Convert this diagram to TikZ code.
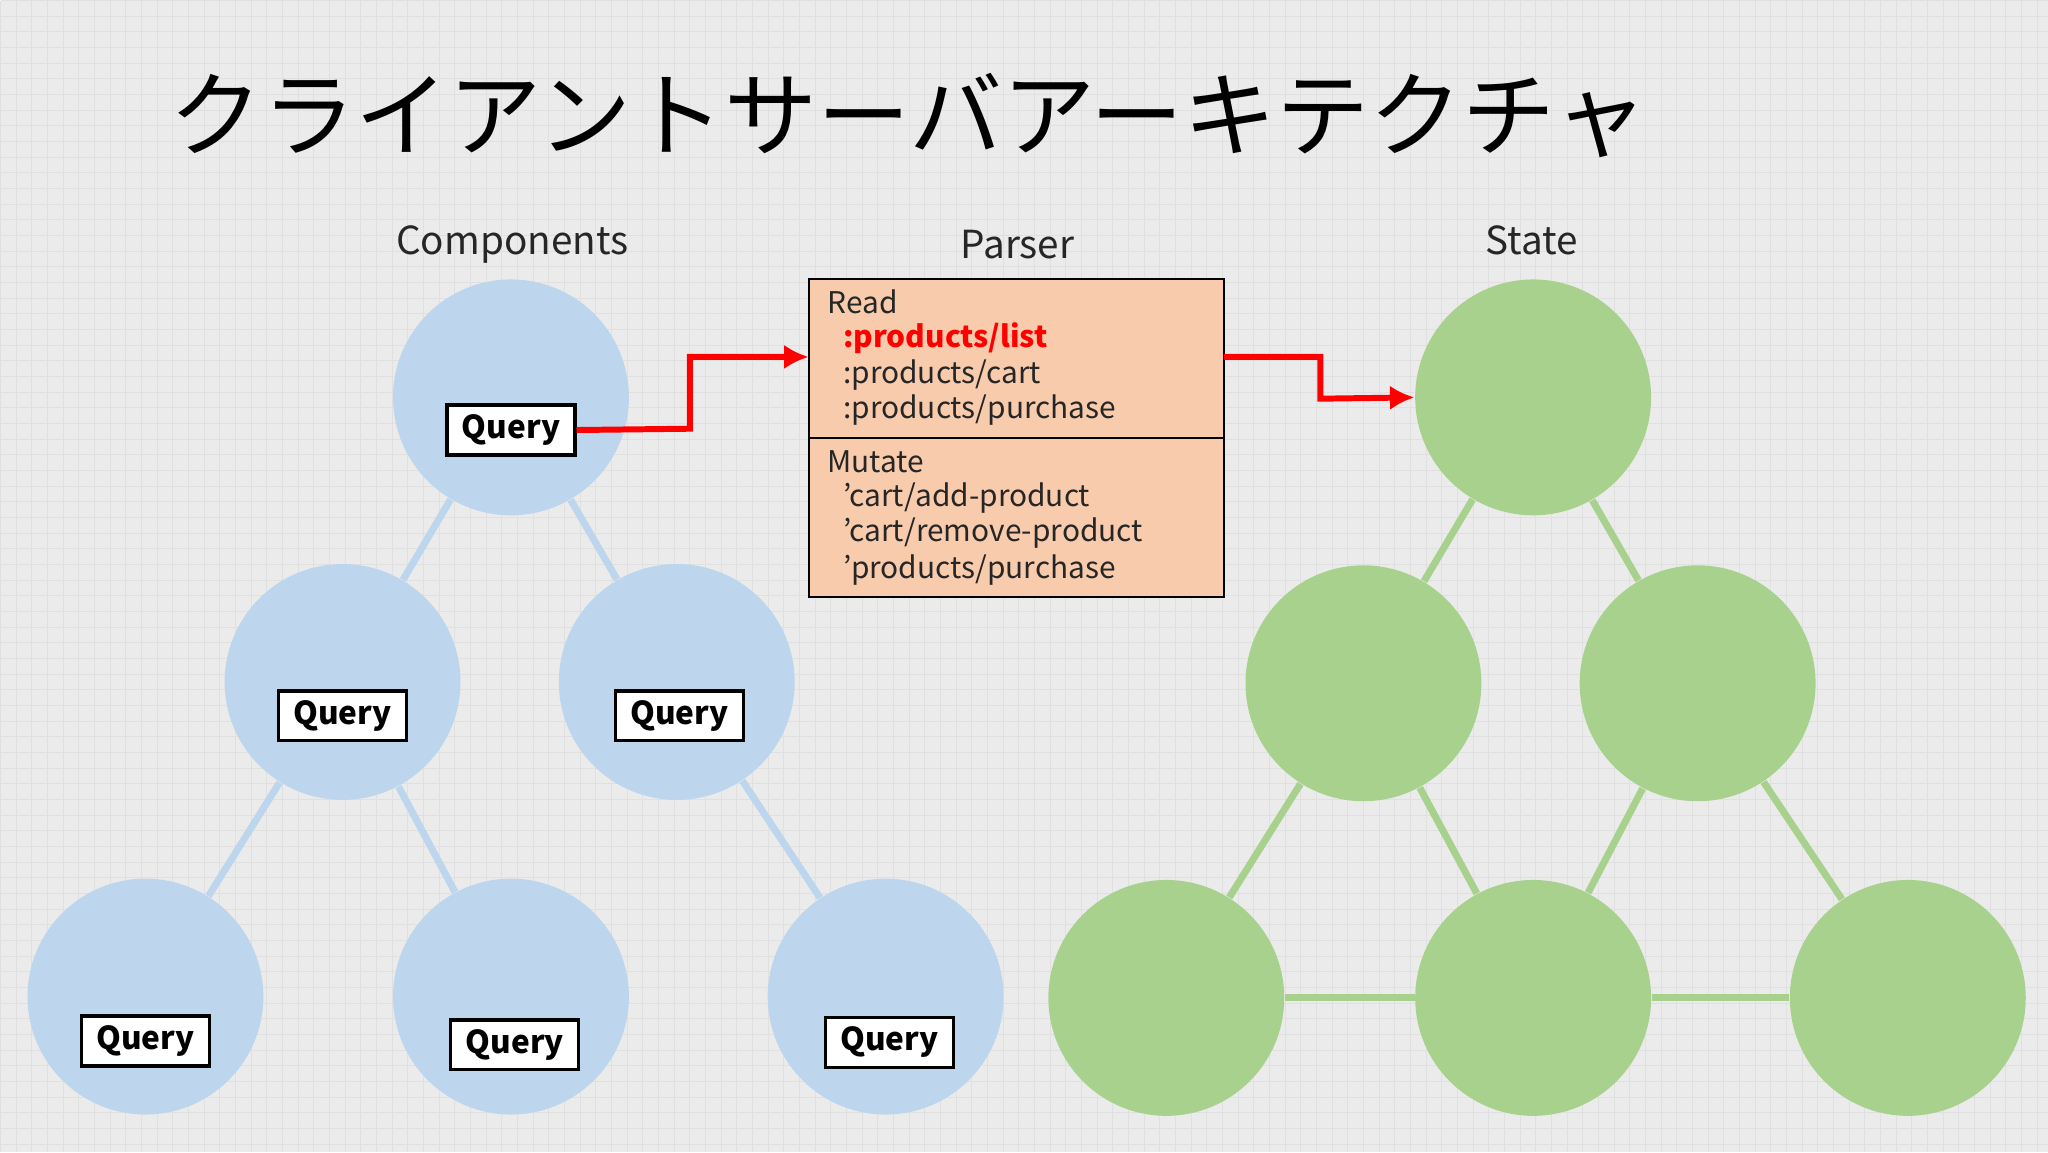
\documentclass[tikz,border=0pt]{standalone}
\usepackage{fontspec}
\setmainfont{Noto Sans CJK JP}[Ligatures=ResetAll]
\newfontfamily\cjk{Noto Sans CJK JP}
\usetikzlibrary{arrows.meta}
\definecolor{bg}{HTML}{EBEBEB}
\definecolor{gridc}{HTML}{E0E0E0}
\definecolor{blu}{HTML}{BDD6EE}
\definecolor{grn}{HTML}{A9D18E}
\definecolor{peach}{HTML}{F8CBAD}
\definecolor{redc}{HTML}{FF0000}
\newcommand{\sq}{\symbol{39}}
\begin{document}
\begin{tikzpicture}[x=0.01306cm,y=-0.01306cm,
  bnode/.style={circle,fill=blu,minimum size=2.36cm,inner sep=0},
  gnode/.style={circle,fill=grn,minimum size=2.36cm,inner sep=0},
  bedge/.style={blu,line width=2pt},
  gedge/.style={grn,line width=2pt},
  query/.style={draw=black,fill=white,line width=0.9pt,minimum width=1.28cm,minimum height=0.5cm,inner sep=0,font=\fontsize{9}{11}\selectfont\bfseries},
  lab/.style={font=\fontsize{11}{13}\selectfont,text=black!85},
  redarrow/.style={redc,line width=1.7pt,-{Latex[length=7pt,width=7pt]}}]
\fill[bg] (0,0) rectangle (1568,882);
\foreach \i in {0,12,...,1568} \draw[gridc,line width=0.3pt] (\i,0) -- (\i,882);
\foreach \j in {0,12,...,882} \draw[gridc,line width=0.3pt] (0,\j) -- (1568,\j);
\useasboundingbox (0,0) rectangle (1568,882);

\node[font=\cjk\fontsize{26.5}{30}\selectfont,anchor=west] (title) at (120,88) {クライアントサーバアーキテクチャ};

\node[lab] (lc) at (392,187) {Components};
\node[lab] (lp) at (779,187) {Parser};
\node[lab] (ls) at (1173,184) {State};

\node[bnode] (b1) at (391,304) {};
\node[bnode] (b2) at (262,522) {};
\node[bnode] (b3) at (518,522) {};
\node[bnode] (b4) at (111,763) {};
\node[bnode] (b5) at (391,763) {};
\node[bnode] (b6) at (678,763) {};
\node[gnode] (g1) at (1174,304) {};
\node[gnode] (g2) at (1044,523) {};
\node[gnode] (g3) at (1300,523) {};
\node[gnode] (g4) at (893,764) {};
\node[gnode] (g5) at (1174,764) {};
\node[gnode] (g6) at (1461,764) {};

\draw[bedge] (b1) -- (b2); \draw[bedge] (b1) -- (b3);
\draw[bedge] (b2) -- (b4); \draw[bedge] (b2) -- (b5);
\draw[bedge] (b3) -- (b6);
\draw[gedge] (g1) -- (g2); \draw[gedge] (g1) -- (g3);
\draw[gedge] (g2) -- (g4); \draw[gedge] (g2) -- (g5);
\draw[gedge] (g3) -- (g5); \draw[gedge] (g3) -- (g6);
\draw[gedge] (g4) -- (g5); \draw[gedge] (g5) -- (g6);

\node[query] (q1) at (391,329) {Query};
\node[query] (q2) at (262,548) {Query};
\node[query] (q3) at (520,548) {Query};
\node[query] (q4) at (111,797) {Query};
\node[query] (q5) at (394,800) {Query};
\node[query] (q6) at (681,798) {Query};

\node[draw=black,fill=peach,line width=0.6pt,minimum width=4.153cm,minimum height=1.593cm,inner sep=0] (pr) at (778,274) {};
\node[draw=black,fill=peach,line width=0.6pt,minimum width=4.153cm,minimum height=1.593cm,inner sep=0] (pm) at (778,396) {};
\begin{scope}[font=\fontsize{8.5}{10}\selectfont,text=black!85]
\node[anchor=west] (t1) at (624,231) {Read};
\node[anchor=west,text=redc,font=\fontsize{8.5}{10}\selectfont\bfseries] (t2) at (636,259) {:products/list};
\node[anchor=west] (t3) at (636,287) {:products/cart};
\node[anchor=west] (t4) at (636,314) {:products/purchase};
\node[anchor=west] (t5) at (624,353) {Mutate};
\node[anchor=west] (t6) at (636,381) {\sq cart/add-product};
\node[anchor=west] (t7) at (636,408) {\sq cart/remove-product};
\node[anchor=west] (t8) at (636,436) {\sq products/purchase};
\end{scope}

\coordinate (pin) at (619,273);
\coordinate (pout) at (937,273);
\draw[redarrow] (q1.east) -- (528,328) -- (528,273) -- (pin);
\draw[redarrow] (pout) -- (1011,273) -- (1011,305) -- (g1.west);
\end{tikzpicture}
\end{document}
